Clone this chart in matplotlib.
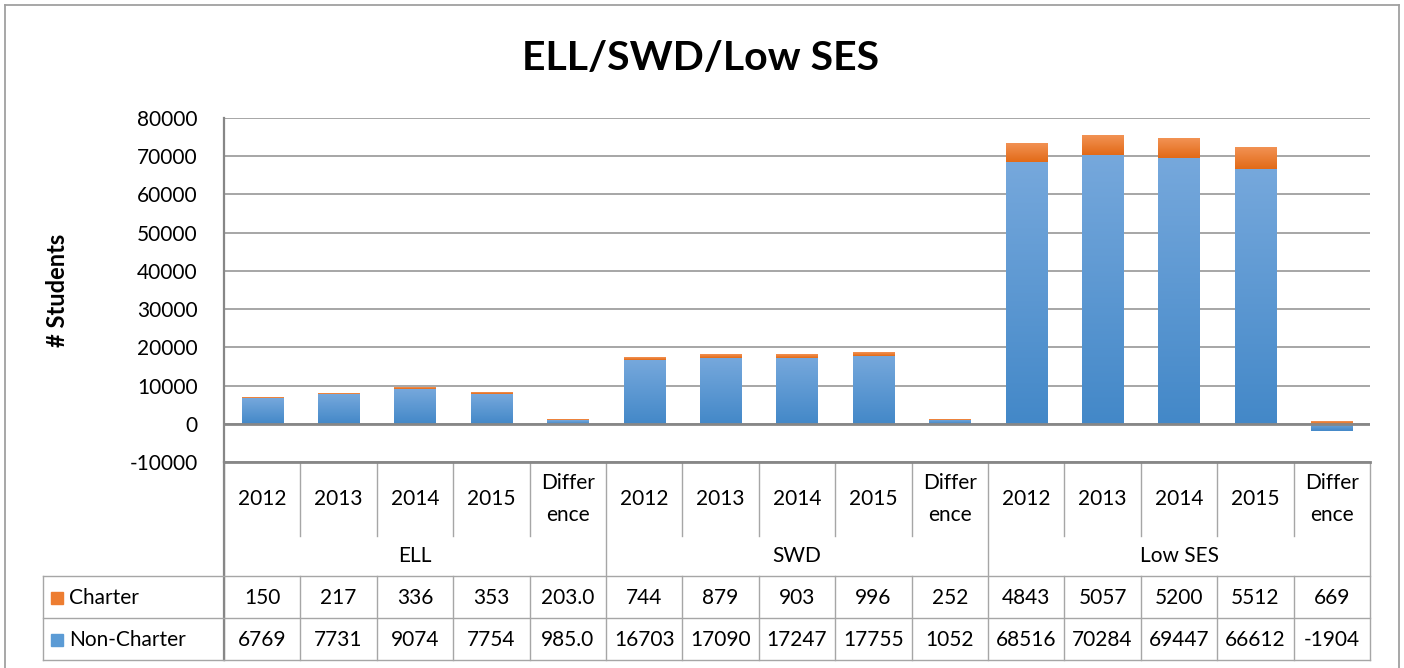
import matplotlib
matplotlib.use("Agg")
import matplotlib.pyplot as plt
import numpy as np
from matplotlib.lines import Line2D
from matplotlib.patches import Rectangle
from matplotlib.transforms import blended_transform_factory
from matplotlib.colors import LinearSegmentedColormap

plt.rcParams["font.family"] = ["Lato", "DejaVu Sans"]
plt.rcParams["axes.unicode_minus"] = False

# data
years = ["2012", "2013", "2014", "2015", "Differ\nence"]
groups = ["ELL", "SWD", "Low SES"]
series = ["Charter", "Non-Charter"]
charter = [150, 217, 336, 353, 203.0,
           744, 879, 903, 996, 252,
           4843, 5057, 5200, 5512, 669]
non_charter = [6769, 7731, 9074, 7754, 985.0,
               16703, 17090, 17247, 17755, 1052,
               68516, 70284, 69447, 66612, -1904]

W, H = 1404, 668
FS = 15
fig = plt.figure(figsize=(W / 100, H / 100), dpi=100)


def fx(px):
    return px / W


def fy(py):
    return 1 - py / H


ax = fig.add_axes([fx(224), fy(462), fx(1370) - fx(224), fy(118) - fy(462)])

n = len(charter)
x = np.arange(n)
nc = np.array(non_charter, dtype=float)
ch = np.array(charter, dtype=float)
ch_bottom = np.where(nc > 0, nc, 0)

blue_cmap = LinearSegmentedColormap.from_list("b", ["#4388C8", "#76A8DC"])
orange_cmap = LinearSegmentedColormap.from_list("o", ["#E26A17", "#F29254"])

bw = 0.54
bars_nc = ax.bar(x, nc, width=bw, color="#5B9BD5", zorder=3)
bars_ch = ax.bar(x, ch, width=bw, bottom=ch_bottom, color="#ED7D31", zorder=3)

# gradient fill on each bar
grad = np.linspace(0, 1, 256).reshape(-1, 1)
for bars, cmap in [(bars_nc, blue_cmap), (bars_ch, orange_cmap)]:
    for p in bars:
        x0, y0 = p.get_xy()
        w, h = p.get_width(), p.get_height()
        y_lo, y_hi = min(y0, y0 + h), max(y0, y0 + h)
        ax.imshow(grad, cmap=cmap, origin="lower", aspect="auto",
                  extent=(x0, x0 + w, y_lo, y_hi), zorder=4)

ax.set_xlim(-0.5, n - 0.5)
ax.set_ylim(-10000, 80000)
ax.set_yticks(np.arange(-10000, 80001, 10000))
ax.tick_params(axis="y", length=0, pad=19, labelsize=FS)
ax.set_xticks([])
for side in ["top", "right"]:
    ax.spines[side].set_visible(False)
ax.spines["left"].set_color("#878787")
ax.spines["left"].set_linewidth(1.6)
ax.spines["bottom"].set_color("#878787")
ax.spines["bottom"].set_linewidth(2)
ax.yaxis.grid(True, color="#A6A6A6", linewidth=1.4, zorder=0)
ax.axhline(0, color="#878787", linewidth=2, zorder=5)
ax.set_axisbelow(True)

# title and y label
fig.text(fx(701), fy(58), "ELL/SWD/Low SES", ha="center", va="center",
         fontsize=29.5, fontweight="bold")
fig.text(fx(58), fy(290), "# Students", ha="center", va="center",
         rotation=90, fontsize=17, fontweight="bold")

# data table below the axis
tr = blended_transform_factory(ax.transData, fig.transFigure)
line_c = "#A6A6A6"


def vline(xd, y1, y2, lw=1.0, c=line_c):
    ax.add_line(Line2D([xd, xd], [fy(y1), fy(y2)], transform=tr, color=c,
                       lw=lw, clip_on=False))


def hline_px(x1, x2, yp, lw=1.0, c=line_c):
    fig.add_artist(Line2D([fx(x1), fx(x2)], [fy(yp), fy(yp)], color=c, lw=lw))


def fmt(v):
    return f"{v:.1f}" if isinstance(v, float) else str(v)


for i in range(n):
    ax.text(i, fy(499), years[i % len(years)], transform=tr, ha="center",
            va="center", fontsize=FS, linespacing=1.75, clip_on=False)
    ax.text(i, fy(598), fmt(charter[i]), transform=tr, ha="center",
            va="center", fontsize=FS, clip_on=False)
    ax.text(i, fy(640), fmt(non_charter[i]), transform=tr, ha="center",
            va="center", fontsize=FS, clip_on=False)

for g, name in enumerate(groups):
    ax.text(g * len(years) + (len(years) - 1) / 2, fy(556), name, transform=tr,
            ha="center", va="center", fontsize=FS, clip_on=False)

for b in range(n + 1):
    xb = b - 0.5
    if b % len(years) == 0:
        vline(xb, 462, 660)
    else:
        vline(xb, 462, 536)
        vline(xb, 576, 660)
vline(-0.5, 462, 660, lw=1.6, c="#878787")

hline_px(43, 1370, 576)
hline_px(43, 1370, 618)
hline_px(43, 1370, 660)
fig.add_artist(Line2D([fx(43), fx(43)], [fy(576), fy(660)], color=line_c, lw=1.0))

for yp, name, col in [(598, series[0], "#ED7D31"), (640, series[1], "#5B9BD5")]:
    fig.add_artist(Rectangle((fx(51), fy(yp + 6)), fx(12), 12 / H, color=col))
    fig.text(fx(69), fy(yp), name, ha="left", va="center", fontsize=FS)

# outer chart border
border_c = "#A0A0A0"
fig.add_artist(Line2D([fx(5), fx(5)], [0, fy(5)], color=border_c, lw=1.3))
fig.add_artist(Line2D([fx(5), fx(1399)], [fy(5), fy(5)], color=border_c, lw=1.3))
fig.add_artist(Line2D([fx(1399), fx(1399)], [0, fy(5)], color=border_c, lw=1.3))

fig.savefig("out.png", dpi=100)
